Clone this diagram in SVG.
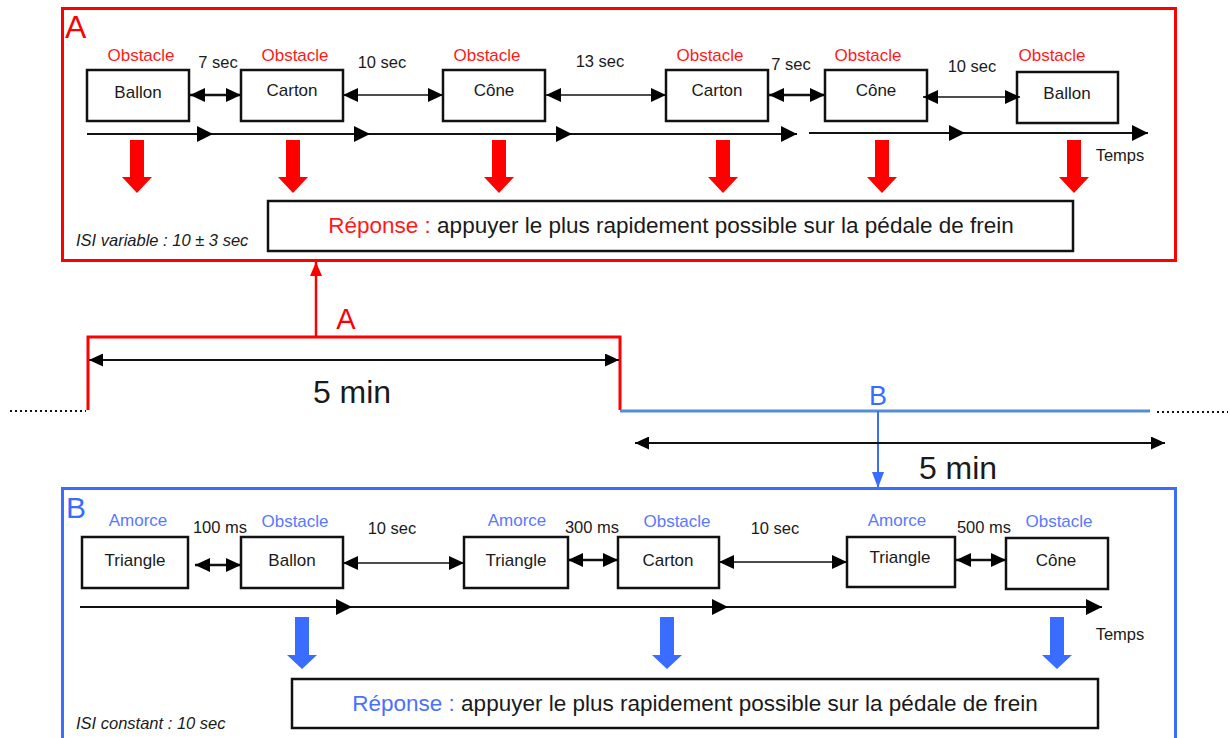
<svg xmlns="http://www.w3.org/2000/svg" xmlns:xlink="http://www.w3.org/1999/xlink" width="1230" height="738" viewBox="0 0 1230 738">
<style>
text{font-family:"Liberation Sans",Arial,sans-serif;fill:#1a1a1a}
.box{fill:#fff;stroke:#111;stroke-width:2.5}
.lbl{font-size:17px;text-anchor:middle}
.red{fill:#ff1a1a}
.blu{fill:#5a78ff}
.t{font-size:16.5px;text-anchor:middle}
.ln{stroke:#111;fill:none}
.isi{font-size:16.5px;font-style:italic}
.resp{font-size:22.5px;text-anchor:middle}
</style>
<defs>
<marker id="ah" viewBox="0 0 15 14" refX="15" refY="7" markerWidth="15" markerHeight="14" markerUnits="userSpaceOnUse" orient="auto-start-reverse"><path d="M0,0 L15,7 L0,14 z" fill="#000"/></marker>
<marker id="ahT" viewBox="0 0 16 16" refX="16" refY="8" markerWidth="16" markerHeight="16" markerUnits="userSpaceOnUse" orient="auto"><path d="M0,0 L16,8 L0,16 z" fill="#000"/></marker>
<marker id="ahM" viewBox="0 0 14 13" refX="14" refY="6.5" markerWidth="14" markerHeight="13" markerUnits="userSpaceOnUse" orient="auto-start-reverse"><path d="M0,0 L14,6.5 L0,13 z" fill="#000"/></marker>
<marker id="ahR" viewBox="0 0 14 12" refX="14" refY="6" markerWidth="14" markerHeight="12" markerUnits="userSpaceOnUse" orient="auto"><path d="M0,0 L14,6 L0,12 z" fill="#ff0000"/></marker>
<marker id="ahB" viewBox="0 0 16 12" refX="16" refY="6" markerWidth="16" markerHeight="12" markerUnits="userSpaceOnUse" orient="auto"><path d="M0,0 L16,6 L0,12 z" fill="#3a6cff"/></marker>
<path id="redArrow" d="M-7,0 L7,0 L7,37 L15,37 L0,53 L-15,37 L-7,37 z" fill="#ff0000"/>
<path id="bluArrow" d="M-7,0 L7,0 L7,38 L15,38 L0,52 L-15,38 L-7,38 z" fill="#3a6cff"/>
</defs>
<rect width="1230" height="738" fill="#fff"/>

<!-- Panel A -->
<g id="panelA">
<rect x="62.5" y="8.5" width="1113" height="252" fill="none" stroke="#ff0000" stroke-width="3"/>
<text x="65" y="38" style="font-size:32px;fill:#ff0000">A</text>
<text x="76" y="246" class="isi">ISI variable : 10 ± 3 sec</text>
<text x="1120" y="161" style="font-size:16.5px;text-anchor:middle">Temps</text>
</g>
<g id="A1"><text x="141" y="61" class="lbl red">Obstacle</text><rect x="87" y="70" width="102" height="51" class="box"/><text x="138" y="98" class="lbl">Ballon</text></g>
<g id="A2"><text x="295" y="61" class="lbl red">Obstacle</text><rect x="241" y="70" width="102" height="51" class="box"/><text x="292" y="96" class="lbl">Carton</text></g>
<g id="A3"><text x="487" y="61" class="lbl red">Obstacle</text><rect x="443" y="70" width="102" height="51" class="box"/><text x="494" y="96" class="lbl">Cône</text></g>
<g id="A4"><text x="710" y="61" class="lbl red">Obstacle</text><rect x="666" y="70" width="102" height="51" class="box"/><text x="717" y="96" class="lbl">Carton</text></g>
<g id="A5"><text x="868" y="61" class="lbl red">Obstacle</text><rect x="825" y="70" width="102" height="51" class="box"/><text x="876" y="96" class="lbl">Cône</text></g>
<g id="A6"><text x="1052" y="61" class="lbl red">Obstacle</text><rect x="1017" y="72" width="101" height="51" class="box"/><text x="1067" y="99" class="lbl">Ballon</text></g>
<g id="respA"><rect x="268" y="201" width="805" height="50" class="box"/><text x="671" y="233" class="resp"><tspan style="fill:#ff1a1a">Réponse : </tspan>appuyer le plus rapidement possible sur la pédale de frein</text></g>

<!-- Panel B -->
<g id="panelB">
<rect x="62.5" y="488.5" width="1113" height="270" fill="none" stroke="#3a6cff" stroke-width="3"/>
<text x="66" y="518" style="font-size:30px;fill:#3a6cff">B</text>
<text x="76" y="729" class="isi">ISI constant : 10 sec</text>
<text x="1120" y="640" style="font-size:16.5px;text-anchor:middle">Temps</text>
</g>
<g id="B1"><text x="138" y="526" class="lbl blu">Amorce</text><rect x="82" y="537" width="106" height="51" class="box"/><text x="135" y="566" class="lbl">Triangle</text></g>
<g id="B2"><text x="295" y="527" class="lbl blu">Obstacle</text><rect x="241" y="537" width="102" height="51" class="box"/><text x="292" y="566" class="lbl">Ballon</text></g>
<g id="B3"><text x="517" y="526" class="lbl blu">Amorce</text><rect x="464" y="537" width="104" height="51" class="box"/><text x="516" y="566" class="lbl">Triangle</text></g>
<g id="B4"><text x="677" y="527" class="lbl blu">Obstacle</text><rect x="618" y="537" width="101" height="51" class="box"/><text x="668" y="566" class="lbl">Carton</text></g>
<g id="B5"><text x="897" y="526" class="lbl blu">Amorce</text><rect x="847" y="537" width="108" height="50" class="box"/><text x="900" y="563" class="lbl">Triangle</text></g>
<g id="B6"><text x="1059" y="527" class="lbl blu">Obstacle</text><rect x="1006" y="538" width="102" height="51" class="box"/><text x="1056" y="566" class="lbl">Cône</text></g>
<g id="respB"><rect x="292" y="679" width="806" height="49" class="box"/><text x="695" y="711" class="resp"><tspan style="fill:#4a70ff">Réponse : </tspan>appuyer le plus rapidement possible sur la pédale de frein</text></g>

<!-- Middle timeline -->
<g id="timeline">
<path d="M88,410 L88,337 L620,337 L620,410" fill="none" stroke="#ff0000" stroke-width="3"/>
<text x="346" y="329" style="font-size:29px;fill:#ff0000;text-anchor:middle">A</text>
<line x1="620" y1="411" x2="1150" y2="411" stroke="#558ed5" stroke-width="3"/>
<text x="878" y="405" style="font-size:27px;fill:#3a6cff;text-anchor:middle">B</text>
<text x="352" y="403" style="font-size:32px;text-anchor:middle">5 min</text>
<text x="958" y="479" style="font-size:32px;text-anchor:middle">5 min</text>
<line x1="10" y1="411" x2="86" y2="411" stroke="#111" stroke-width="2" stroke-dasharray="2,3"/>
<line x1="1157" y1="412" x2="1228" y2="412" stroke="#111" stroke-width="2" stroke-dasharray="2,3"/>
</g>

<!-- Connectors -->
<g id="connectors">
<line x1="316" y1="337" x2="316" y2="262" stroke="#ff0000" stroke-width="2.5" marker-end="url(#ahR)"/>
<line x1="878" y1="411" x2="878" y2="488" stroke="#3a6cff" stroke-width="2" marker-end="url(#ahB)"/>
<line x1="89" y1="360" x2="619" y2="360" class="ln" stroke-width="2" marker-start="url(#ahM)" marker-end="url(#ahM)"/>
<line x1="635" y1="443" x2="1165" y2="443" class="ln" stroke-width="2" marker-start="url(#ahM)" marker-end="url(#ahM)"/>

<!-- A interval arrows -->
<line x1="190" y1="95" x2="241" y2="95" class="ln" stroke-width="2.5" marker-start="url(#ah)" marker-end="url(#ah)"/>
<text x="218" y="68" class="t">7 sec</text>
<line x1="343" y1="95" x2="443" y2="95" class="ln" stroke-width="1.5" marker-start="url(#ah)" marker-end="url(#ah)"/>
<text x="382" y="68" class="t">10 sec</text>
<line x1="546" y1="95" x2="666" y2="95" class="ln" stroke-width="1.5" marker-start="url(#ah)" marker-end="url(#ah)"/>
<text x="600" y="67" class="t">13 sec</text>
<line x1="769" y1="95" x2="825" y2="95" class="ln" stroke-width="2.5" marker-start="url(#ah)" marker-end="url(#ah)"/>
<text x="791" y="70" class="t">7 sec</text>
<line x1="923" y1="97" x2="1020" y2="97" class="ln" stroke-width="1.5" marker-start="url(#ah)" marker-end="url(#ah)"/>
<text x="972" y="72" class="t">10 sec</text>

<!-- A time axis -->
<line x1="87" y1="134" x2="213" y2="134" class="ln" stroke-width="2" marker-end="url(#ahT)"/>
<line x1="213" y1="134" x2="370" y2="134" class="ln" stroke-width="2" marker-end="url(#ahT)"/>
<line x1="370" y1="134" x2="572" y2="134" class="ln" stroke-width="2" marker-end="url(#ahT)"/>
<line x1="572" y1="134" x2="797" y2="134" class="ln" stroke-width="2" marker-end="url(#ahT)"/>
<line x1="809" y1="133" x2="965" y2="133" class="ln" stroke-width="2" marker-end="url(#ahT)"/>
<line x1="965" y1="133" x2="1148" y2="133" class="ln" stroke-width="2" marker-end="url(#ahT)"/>

<!-- A response arrows -->
<use xlink:href="#redArrow" x="137" y="140"/>
<use xlink:href="#redArrow" x="293" y="140"/>
<use xlink:href="#redArrow" x="499" y="140"/>
<use xlink:href="#redArrow" x="723" y="140"/>
<use xlink:href="#redArrow" x="882" y="140"/>
<use xlink:href="#redArrow" x="1074" y="140"/>

<!-- B interval arrows -->
<line x1="195" y1="565" x2="241" y2="565" class="ln" stroke-width="2.5" marker-start="url(#ah)" marker-end="url(#ah)"/>
<text x="220" y="533" class="t">100 ms</text>
<line x1="343" y1="563" x2="464" y2="563" class="ln" stroke-width="1.5" marker-start="url(#ah)" marker-end="url(#ah)"/>
<text x="392" y="534" class="t">10 sec</text>
<line x1="568" y1="560" x2="618" y2="560" class="ln" stroke-width="2.5" marker-start="url(#ah)" marker-end="url(#ah)"/>
<text x="592" y="533" class="t">300 ms</text>
<line x1="719" y1="562" x2="847" y2="562" class="ln" stroke-width="1.5" marker-start="url(#ah)" marker-end="url(#ah)"/>
<text x="775" y="534" class="t">10 sec</text>
<line x1="956" y1="560" x2="1006" y2="560" class="ln" stroke-width="2.5" marker-start="url(#ah)" marker-end="url(#ah)"/>
<text x="984" y="533" class="t">500 ms</text>

<!-- B time axis -->
<line x1="80" y1="607" x2="352" y2="607" class="ln" stroke-width="2" marker-end="url(#ahT)"/>
<line x1="352" y1="607" x2="728" y2="607" class="ln" stroke-width="2" marker-end="url(#ahT)"/>
<line x1="728" y1="607" x2="1102" y2="607" class="ln" stroke-width="2" marker-end="url(#ahT)"/>

<!-- B response arrows -->
<use xlink:href="#bluArrow" x="302" y="617"/>
<use xlink:href="#bluArrow" x="667" y="617"/>
<use xlink:href="#bluArrow" x="1057" y="617"/>
</g>
</svg>
